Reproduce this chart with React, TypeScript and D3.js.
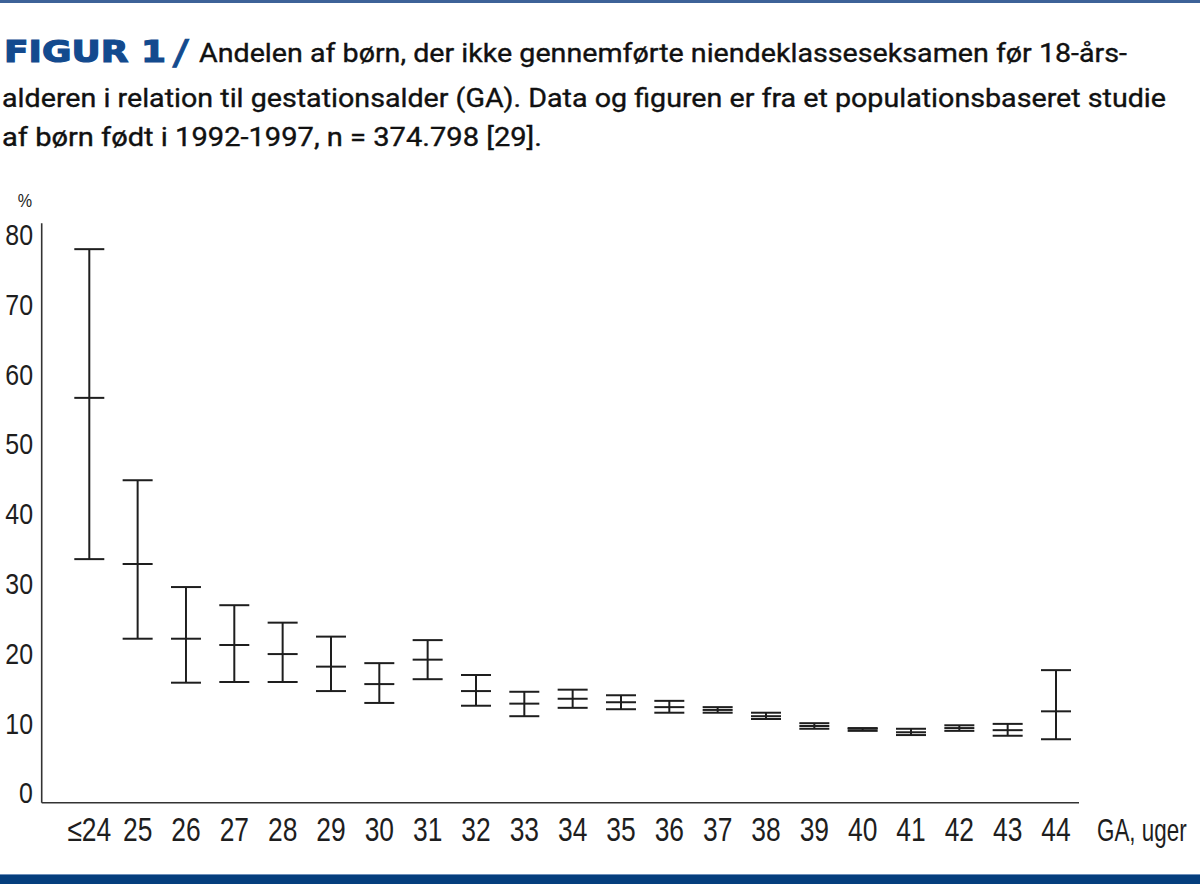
import React, { useRef, useEffect } from 'react';
import * as d3 from 'd3';

// Gestationsalder (uger) og andel uden niendeklasseseksamen (%)
const categories = ['≤24', '25', '26', '27', '28', '29', '30', '31', '32', '33', '34', '35', '36', '37', '38', '39', '40', '41', '42', '43', '44'];
const estimate = [56.6, 32.8, 22.1, 21.2, 19.9, 18.1, 15.6, 19.1, 14.6, 12.8, 13.5, 13.0, 12.3, 11.9, 11.0, 9.6, 9.2, 8.7, 9.3, 9.0, 11.7];
const upper = [77.9, 44.8, 29.5, 26.9, 24.4, 22.4, 18.6, 21.9, 16.9, 14.5, 14.8, 14.0, 13.2, 12.3, 11.5, 10.0, 9.3, 9.2, 9.7, 9.9, 17.6];
const lower = [33.5, 22.1, 15.8, 15.9, 15.9, 14.6, 12.9, 16.3, 12.5, 11.0, 12.2, 12.0, 11.5, 11.5, 10.6, 9.2, 8.9, 8.3, 8.9, 8.2, 7.7];
const yTicks = [0, 10, 20, 30, 40, 50, 60, 70, 80];

const titleLines = [
  'Andelen af børn, der ikke gennemførte niendeklasseseksamen før 18-års-',
  'alderen i relation til gestationsalder (GA). Data og figuren er fra et populationsbaseret studie',
  'af børn født i 1992-1997, n = 374.798 [29].',
];

const WIDTH = 1200;
const HEIGHT = 884;
const BLUE = '#134a8e';
const INK = '#1e1e1e';
const FONT = '"Liberation Sans", Arial, sans-serif';

export default function App() {
  const svgRef = useRef<SVGSVGElement>(null);

  useEffect(() => {
    document.body.style.margin = '0';
    if (!svgRef.current) return;

    const svg = d3.select(svgRef.current);
    svg.selectAll('*').remove();

    // rammelinjer
    svg.append('rect').attr('x', 0).attr('y', 0).attr('width', WIDTH).attr('height', 3).attr('fill', '#3d6298');
    svg.append('rect').attr('x', 0).attr('y', 874).attr('width', WIDTH).attr('height', 10).attr('fill', '#053e7d');
    svg.append('rect').attr('x', 0).attr('y', 874).attr('width', WIDTH).attr('height', 1).attr('fill', '#6d8fba');

    // titel
    svg.append('text')
      .attr('x', 4).attr('y', 62)
      .attr('textLength', 162).attr('lengthAdjust', 'spacingAndGlyphs')
      .style('font-family', '"DejaVu Sans", sans-serif')
      .style('font-weight', 'bold')
      .style('font-size', '30px')
      .style('fill', BLUE)
      .style('stroke', BLUE)
      .style('stroke-width', 1.2)
      .text('FIGUR 1');
    svg.append('text')
      .attr('x', 174).attr('y', 64)
      .attr('transform', 'skewX(-8)')
      .attr('dx', 8)
      .style('font-family', '"DejaVu Sans", sans-serif')
      .style('font-weight', 'bold')
      .style('font-size', '34px')
      .style('fill', BLUE)
      .style('stroke', BLUE)
      .style('stroke-width', 1)
      .text('/');

    const lineX = [199, 2, 2];
    const lineY = [62, 107, 146];
    const lineLen = [928, 1164, 540];
    titleLines.forEach((t, i) => {
      svg.append('text')
        .attr('x', lineX[i]).attr('y', lineY[i])
        .attr('textLength', lineLen[i]).attr('lengthAdjust', 'spacingAndGlyphs')
        .style('font-family', 'Roboto, sans-serif')
        .style('font-size', '25px')
        .style('fill', '#111')
        .style('stroke', '#111')
        .style('stroke-width', 0.35)
        .text(t);
    });

    // skalaer
    const x = d3.scalePoint<string>().domain(categories).range([89.3, 1056]);
    const y = d3.scaleLinear().domain([0, 80]).range([793, 234.5]);

    const axisLeft = 41.7;
    const axisBottom = y(-1.4);

    // akser
    svg.append('line')
      .attr('x1', axisLeft).attr('x2', axisLeft)
      .attr('y1', y(81.6)).attr('y2', axisBottom)
      .attr('stroke', '#333').attr('stroke-width', 1.6);
    svg.append('line')
      .attr('x1', axisLeft).attr('x2', 1079)
      .attr('y1', axisBottom).attr('y2', axisBottom)
      .attr('stroke', '#333').attr('stroke-width', 1.6);

    // smal skrift via vandret skalering
    svg.selectAll('.ytick')
      .data(yTicks)
      .enter()
      .append('text')
      .attr('class', 'ytick')
      .attr('transform', d => `translate(33,${y(d)}) scale(0.86,1)`)
      .attr('dy', '0.36em')
      .style('text-anchor', 'end')
      .style('font-family', FONT)
      .style('font-size', '29px')
      .style('fill', INK)
      .text(d => d);

    svg.append('text')
      .attr('transform', 'translate(32,207) scale(0.85,1)')
      .style('text-anchor', 'end')
      .style('font-family', FONT)
      .style('font-size', '19px')
      .style('fill', INK)
      .text('%');

    svg.selectAll('.xtick')
      .data(categories)
      .enter()
      .append('text')
      .attr('class', 'xtick')
      .attr('transform', d => `translate(${x(d)},841) scale(0.8,1)`)
      .style('text-anchor', 'middle')
      .style('font-family', FONT)
      .style('font-size', '33px')
      .style('fill', INK)
      .text(d => d);

    svg.append('text')
      .attr('transform', 'translate(1097,841) scale(0.7,1)')
      .style('font-family', FONT)
      .style('font-size', '32px')
      .style('fill', INK)
      .text('GA, uger');

    // fejlsøjler
    const capHalf = 15;
    const bars = svg.selectAll('.bar')
      .data(categories.map((c, i) => ({ c, est: estimate[i], hi: upper[i], lo: lower[i] })))
      .enter()
      .append('g')
      .attr('class', 'bar')
      .attr('transform', d => `translate(${x(d.c)},0)`)
      .attr('stroke', INK)
      .attr('stroke-width', 2);

    bars.append('line')
      .attr('x1', 0).attr('x2', 0)
      .attr('y1', d => y(d.hi)).attr('y2', d => y(d.lo));
    (['hi', 'est', 'lo'] as const).forEach(k => {
      bars.append('line')
        .attr('x1', -capHalf).attr('x2', capHalf)
        .attr('y1', d => y(d[k])).attr('y2', d => y(d[k]));
    });
  }, []);

  return (
    <svg
      ref={svgRef}
      width={WIDTH}
      height={HEIGHT}
      viewBox={`0 0 ${WIDTH} ${HEIGHT}`}
      style={{ display: 'block', background: '#fff' }}
    />
  );
}
